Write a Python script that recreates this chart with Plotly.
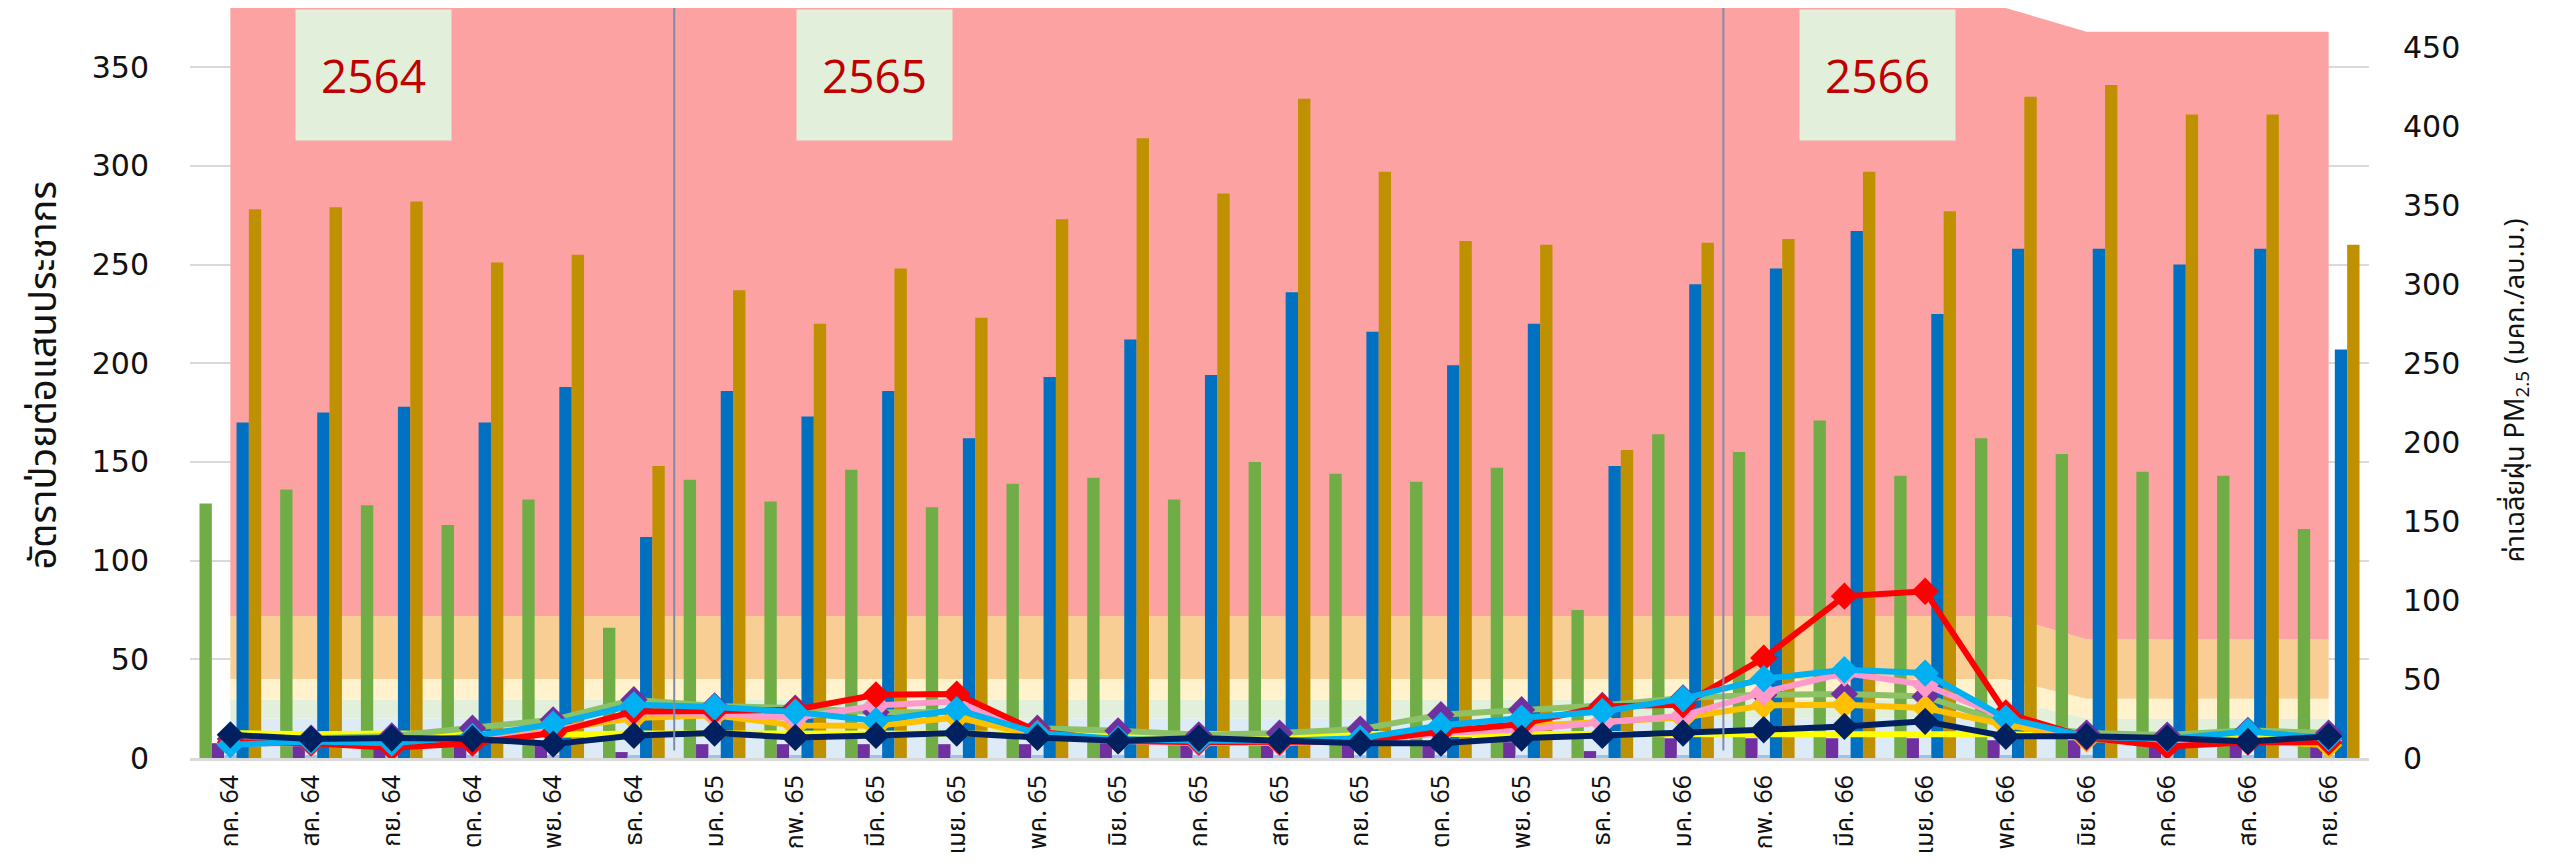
import plotly.graph_objects as go

# ---------------- data ----------------
months = ["กค. 64", "สค. 64", "กย. 64", "ตค. 64", "พย. 64", "ธค. 64",
          "มค. 65", "กพ. 65", "มีค. 65", "เมย. 65", "พค. 65", "มิย. 65",
          "กค. 65", "สค. 65", "กย. 65", "ตค. 65", "พย. 65", "ธค. 65",
          "มค. 66", "กพ. 66", "มีค. 66", "เมย. 66", "พค. 66", "มิย. 66",
          "กค. 66", "สค. 66", "กย. 66"]

# PM2.5 air-quality bands (stacked, right axis)
band_blue   = [25]*23 + [15]*4
band_green  = [12]*23 + [10]*4
band_yellow = [13]*23 + [12.5]*4
band_orange = [40]*23 + [37.5]*4
band_red    = [385]*27

# illness rates per 100k (left axis)
bar_green  = [129, 136, 128, 118, 131, 66, 141, 130, 146, 127, 139, 142, 131, 150,
              144, 140, 147, 75, 164, 155, 171, 143, 162, 154, 145, 143, 116]
bar_purple = [7.5, 7, 7, 7, 7, 3, 7, 7, 7, 7, 7, 7.5, 7.5, 7.5, 7.5, 7.5, 8, 3.5,
              10, 10, 10, 10, 9, 9, 8, 7, 11]
bar_light  = [1.5]*27
bar_blue   = [170, 175, 178, 170, 188, 112, 186, 173, 186, 162, 193, 212, 194, 236,
              216, 199, 220, 148, 240, 248, 267, 225, 258, 258, 250, 258, 207]
bar_gold   = [278, 279, 282, 251, 255, 148, 237, 220, 248, 223, 273, 314, 286, 334,
              297, 262, 260, 156, 261, 263, 297, 277, 335, 341, 326, 326, 260]

# PM2.5 averages (right axis)
pm_yellow = [15.8, 15, 15.5, 14.7, 14.7, 15.5, 15.5, 15, 15, 15, 15, 15, 15, 15,
             15, 15, 15, 15, 15, 15.7, 15.5, 15.5, 15, 14, 13, 13, 13]
pm_green  = [12, 12.5, 14, 18.9, 24.2, 36.9, 33, 31.6, 29, 29, 18.9, 17.2, 14.7, 15.8,
             18.3, 27.4, 30.6, 33.3, 38, 40, 40.5, 39, 22, 15.8, 14.5, 17.5, 15.8]
pm_orange = [9, 10, 9, 10.5, 17.9, 25.3, 27, 20.6, 20.4, 25.7, 14, 11, 10, 9.5,
             11, 16, 20, 22.7, 25.7, 33.3, 33.7, 31.6, 21, 12, 10.5, 11, 8]
pm_pink   = [9, 9.5, 8, 10, 17, 28.5, 28, 25.3, 33.3, 35.9, 14, 11, 9.4, 10,
             10.5, 15.8, 17.9, 22.5, 26.8, 41.6, 53.8, 46.4, 25.3, 12.5, 10.5, 11.5, 11]
pm_red    = [10, 9.4, 6.5, 9.4, 15.8, 29.5, 29.8, 30.6, 40, 40.5, 16.8, 11, 10, 10,
             10.5, 16.8, 21.5, 32.7, 33.7, 63.3, 102.5, 105.6, 28.5, 13, 7.3, 10, 10]
pm_cyan   = [8.4, 10.5, 9.4, 13.7, 21.5, 33.7, 32.3, 29.1, 23.6, 30.6, 15.8, 12, 11, 11,
             12.5, 20.6, 25.3, 29.5, 37.5, 50.2, 55.9, 53.8, 25.3, 13.5, 12, 16.8, 12.5]
pm_navy   = [14.7, 12, 12.6, 12.2, 8.8, 14.3, 15.8, 13, 14.3, 15.8, 13, 10.9, 12.6, 10.9,
             9.4, 9.4, 12.6, 14.3, 15.8, 17.9, 20, 23.2, 13.7, 13.7, 12.6, 10.5, 13.7]

year_labels = ["2564", "2565", "2566"]
year_pos = [1.77, 7.98, 20.41]
year_sep = [5.5, 18.5]

left_ticks = [0, 50, 100, 150, 200, 250, 300, 350]
right_ticks = [0, 50, 100, 150, 200, 250, 300, 350, 400, 450]

# ---------------- figure ----------------
THAI = "Noto Sans Thai, Leelawadee UI, Tahoma, DejaVu Sans, sans-serif"
NUM = "DejaVu Sans, sans-serif"
fig = go.Figure()

for vals, col, nm in [(band_blue, "#DDEBF7", "0-25"), (band_green, "#E2EFDA", "26-37"),
                      (band_yellow, "#FFF2CC", "38-50"), (band_orange, "#F8CE94", "51-90"),
                      (band_red, "#FCA2A2", ">90")]:
    fig.add_trace(go.Scatter(x=months, y=vals, yaxis="y", stackgroup="bands", mode="none",
                             fillcolor=col, line=dict(width=0), name=nm, hoverinfo="skip"))

for vals, col, nm in [(bar_green, "#70AD47", "ชุด 1"), (bar_purple, "#7030A0", "ชุด 2"),
                      (bar_light, "#9DC3E6", "ชุด 3"), (bar_blue, "#0070C0", "ชุด 4"),
                      (bar_gold, "#BF9000", "ชุด 5")]:
    fig.add_trace(go.Bar(x=months, y=vals, yaxis="y2", marker=dict(color=col, line=dict(width=0)),
                         name=nm))

for vals, lc, mc, nm, sym in [
        (pm_yellow, "#FFFF00", "#FFFF00", "PM 1", None),
        (pm_green, "#8CC168", "#7030A0", "PM 2", "diamond"),
        (pm_orange, "#FFC000", "#FFC000", "PM 3", "diamond"),
        (pm_pink, "#FF99CC", "#FF99CC", "PM 4", "diamond"),
        (pm_red, "#FF0000", "#FF0000", "PM 5", "diamond"),
        (pm_cyan, "#00B0F0", "#00B0F0", "PM 6", "diamond"),
        (pm_navy, "#002060", "#002060", "PM 7", "diamond")]:
    if sym:
        fig.add_trace(go.Scatter(x=months, y=vals, yaxis="y3", mode="lines+markers", name=nm,
                                 line=dict(color=lc, width=6),
                                 marker=dict(symbol=sym, size=21, color=mc)))
    else:
        fig.add_trace(go.Scatter(x=months, y=vals, yaxis="y3", mode="lines", name=nm,
                                 line=dict(color=lc, width=6)))

for xs in year_sep:
    fig.add_shape(type="line", xref="x", yref="paper", x0=xs, x1=xs, y0=0.01, y1=1.0,
                  line=dict(color="#7F8CA8", width=2))

for lab, xp in zip(year_labels, year_pos):
    fig.add_annotation(x=xp, xref="x", y=0.999, yref="paper", yanchor="top", text=lab,
                       showarrow=False, width=153, height=128, bgcolor="#E2EFDA",
                       font=dict(family="Open Sans, sans-serif", size=46, color="#C00000"),
                       valign="middle")

fig.add_annotation(x=-0.067, xref="paper", xanchor="center", y=0.51, yref="paper",
                   yanchor="middle", text="อัตราป่วยต่อแสนประชากร",
                   textangle=-90, showarrow=False, font=dict(family=THAI, size=38, color="#111111"))
fig.add_annotation(x=1.0675, xref="paper", xanchor="center", y=0.49, yref="paper",
                   yanchor="middle", text="ค่าเฉลี่ยฝุ่น PM<sub>2.5</sub> (มคก./ลบ.ม.)",
                   textangle=-90, showarrow=False, font=dict(family=THAI, size=27, color="#111111"))

# page body has an 8px margin: the figure is 8px smaller and offset accordingly
fig.update_layout(
    width=2544, height=856,
    margin=dict(l=182, r=183, t=0, b=106, autoexpand=False),
    paper_bgcolor="white", plot_bgcolor="white",
    showlegend=False,
    barmode="group", bargap=0.235, bargroupgap=0,
    font=dict(family=THAI, color="#111111"),
    xaxis=dict(type="category", range=[-0.5, 26.5], tickangle=-90, automargin=False,
               tickfont=dict(family=THAI, size=25, color="#111111"),
               showgrid=False, showline=True, linecolor="#D9D9D9", linewidth=3,
               ticks="outside", ticklen=4, tickcolor="rgba(0,0,0,0)", zeroline=False),
    yaxis=dict(range=[0, 475], visible=False, showgrid=False, zeroline=False, automargin=False),
    yaxis2=dict(overlaying="y", side="left", range=[0, 380], tickvals=left_ticks,
                showgrid=True, gridcolor="#D9D9D9", gridwidth=2, zeroline=False, automargin=False,
                tickfont=dict(family=NUM, size=30, color="#111111"),
                ticklabelstandoff=40, showline=False),
    yaxis3=dict(overlaying="y", side="right", range=[0, 475], tickvals=right_ticks,
                showgrid=False, zeroline=False, automargin=False,
                tickfont=dict(family=NUM, size=30, color="#111111"),
                ticklabelstandoff=33, showline=False),
)

fig.write_html("out.html")
